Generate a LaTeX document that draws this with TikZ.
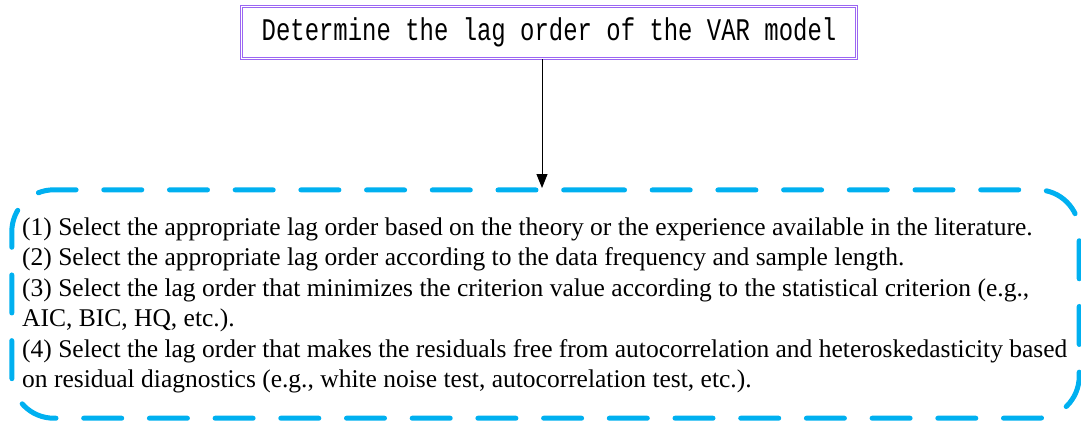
\documentclass[tikz,border=0pt]{standalone}
\usepackage{fontspec}
\setmainfont{Liberation Serif}
\newfontfamily\titlefont[FakeStretch=0.76]{Liberation Mono}
\usetikzlibrary{arrows.meta}
\definecolor{framecol}{HTML}{00B0F0}
\definecolor{titlecol}{HTML}{9B66F2}
\tikzset{
  titlebox/.style={draw=titlecol, double=white, double distance=1.6pt, line width=1.1pt,
    minimum width=615pt, minimum height=52pt, inner sep=0pt,
    font=\titlefont\fontsize{31.5}{31.5}\selectfont},
  framebox/.style={minimum width=1067pt, minimum height=228pt, inner sep=0pt},
  frameline/.style={draw=framecol, line width=5pt, line cap=round, rounded corners=42pt,
    dash pattern=on 38pt off 27.7pt},
  itemtext/.style={anchor=base west, inner sep=0pt, font=\fontsize{25.5}{30}\selectfont},
  flow/.style={-{Triangle[length=14pt,width=11pt]}, line width=1pt, black}
}
\begin{document}
\begin{tikzpicture}[x=1pt,y=-1pt]
\useasboundingbox (0,0) rectangle (1081,428);
\node[titlebox] (title) at (549,32.5) {Determine the lag order of the VAR model};
\node[framebox] (frame) at (545.5,304) {};
\coordinate (tip) at (542,188);
\draw[frameline] (544.5,190) -- (frame.north east) -- (frame.south east) -- (frame.south west) -- (frame.north west) -- cycle;
\draw[flow] (title.south -| tip) -- (tip);
\node[itemtext] (l1) at (22,235) {(1) Select the appropriate lag order based on the theory or the experience available in the literature.};
\node[itemtext] (l2) at (22,265.5) {(2) Select the appropriate lag order according to the data frequency and sample length.};
\node[itemtext] (l3) at (22,296) {(3) Select the lag order that minimizes the criterion value according to the statistical criterion (e.g.,};
\node[itemtext] (l4) at (22,326.5) {AIC, BIC, HQ, etc.).};
\node[itemtext] (l5) at (22,357) {(4) Select the lag order that makes the residuals free from autocorrelation and heteroskedasticity based};
\node[itemtext] (l6) at (22,387.5) {on residual diagnostics (e.g., white noise test, autocorrelation test, etc.).};
\end{tikzpicture}
\end{document}
